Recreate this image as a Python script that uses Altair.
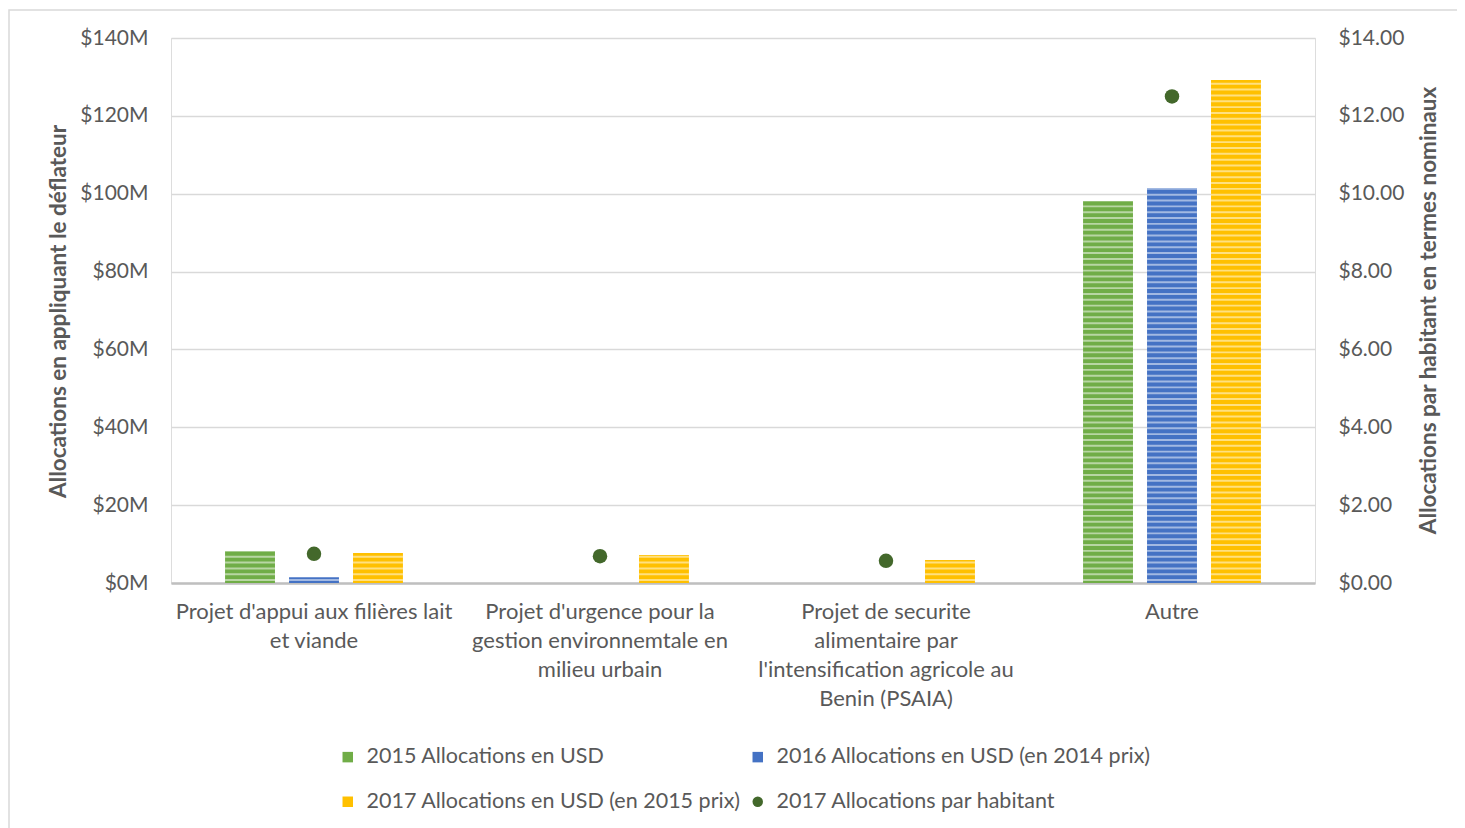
import json
import altair as alt
import pandas as pd

categories = [
    "Projet d'appui aux filières lait et viande",
    "Projet d'urgence pour la gestion environnemtale en milieu urbain",
    "Projet de securite alimentaire par l'intensification agricole au Benin (PSAIA)",
    "Autre",
]
category_lines = [
    ["Projet d'appui aux filières lait", "et viande"],
    ["Projet d'urgence pour la", "gestion environnemtale en", "milieu urbain"],
    ["Projet de securite", "alimentaire par", "l'intensification agricole au", "Benin (PSAIA)"],
    ["Autre"],
]
series = [
    "2015 Allocations en USD",
    "2016 Allocations en USD (en 2014 prix)",
    "2017 Allocations en USD (en 2015 prix)",
    "2017 Allocations par habitant",
]
colors = ["#70AD47", "#4472C4", "#FFC000", "#43682B"]
shapes = ["square", "square", "square", "circle"]

alloc_2015 = [8.2, None, None, 98.1]      # millions USD
alloc_2016 = [1.5, None, None, 101.5]
alloc_2017 = [7.7, 7.2, 5.9, 129.2]
per_capita_2017 = [0.75, 0.69, 0.57, 12.5]  # USD per inhabitant

rows = []
for s, vals in zip(series[:3], [alloc_2015, alloc_2016, alloc_2017]):
    for c, v in zip(categories, vals):
        if v is not None:
            rows.append({"category": c, "series": s, "value": v})
bar_df = pd.DataFrame(rows)
dot_df = pd.DataFrame({"category": categories, "series": series[3], "per_capita": per_capita_2017})

label_expr = " : ".join(
    f"datum.value == {json.dumps(c)} ? {json.dumps(l)}" for c, l in zip(categories[:-1], category_lines[:-1])
) + f" : {json.dumps(category_lines[-1])}"

FONT = "Lato"
GRAY = "#595959"
FS = 21
TFS = 22.5

legend_def = alt.Legend(
    title=None, orient="none", legendX=166, legendY=708, columns=2, direction="horizontal",
    labelFont=FONT, labelFontSize=21.5, labelColor=GRAY, labelLimit=600,
    symbolSize=110, symbolStrokeWidth=0, rowPadding=22, columnPadding=6,
    labelOffset=8,
)

x_enc = alt.X(
    "category:N", sort=categories,
    scale=alt.Scale(domain=categories, paddingInner=0, paddingOuter=0),
    axis=alt.Axis(
        title=None, labelAngle=0, labelExpr=label_expr, labelFont=FONT, labelFontSize=22,
        labelColor=GRAY, labelPadding=18, labelLineHeight=29, labelBaseline="top",
        ticks=False, domainColor="#BFBFBF", domainWidth=2.5, grid=False, labelLimit=400,
    ),
)
xoff = alt.XOffset("series:N", scale=alt.Scale(domain=series[:3], paddingInner=0.22, paddingOuter=0.845))
color_enc = alt.Color("series:N", scale=alt.Scale(domain=series, range=colors), legend=legend_def)
shape_enc = alt.Shape("series:N", scale=alt.Scale(domain=series, range=shapes), legend=legend_def)

y_left = alt.Y(
    "value:Q", scale=alt.Scale(domain=[0, 140]),
    axis=alt.Axis(
        title="Allocations en appliquant le déflateur", values=list(range(0, 141, 20)),
        labelExpr="'$' + datum.value + 'M'", labelFont=FONT, labelFontSize=FS, labelColor=GRAY,
        labelPadding=23, ticks=False, domain=False, grid=True, gridColor="#D9D9D9", gridWidth=1.3,
        titleFont=FONT, titleFontSize=TFS, titleFontWeight="bold", titleColor=GRAY,
        titleX=-113, titleY=273, titleAlign="center", titleBaseline="middle", titleAngle=270,
    ),
)

bars = alt.Chart(bar_df).mark_bar().encode(
    x=x_enc, xOffset=xoff, y=y_left, color=color_enc, shape=shape_enc,
)

stripes = (
    alt.Chart(bar_df)
    .transform_calculate(stripe="sequence(0.5, datum.value, 1.5)")
    .transform_flatten(["stripe"])
    .transform_calculate(stripe2="min(datum.stripe + 0.5, datum.value)")
    .mark_rect(color="white", opacity=0.5)
    .encode(
        x=alt.X("category:N", sort=categories),
        xOffset=alt.XOffset("series:N"),
        y=alt.Y("stripe:Q"),
        y2="stripe2:Q",
    )
)

frame = alt.Chart(dot_df).mark_rect(
    fill=None, stroke="#D9D9D9", strokeWidth=1.5, clip=False
).encode(
    x=alt.value(-162), x2=alt.value(1320), y=alt.value(-28), y2=alt.value(800)
).transform_filter("datum.category == 'Autre'")

dots = alt.Chart(dot_df).mark_point(filled=True, size=210, opacity=1).encode(
    x=alt.X("category:N", sort=categories),
    y=alt.Y(
        "per_capita:Q", scale=alt.Scale(domain=[0, 14]),
        axis=alt.Axis(
            orient="right", title="Allocations par habitant en termes nominaux", values=list(range(0, 15, 2)),
            format="$.2f", labelFont=FONT, labelFontSize=FS, labelColor=GRAY, labelPadding=23,
            ticks=False, domain=False, grid=False,
            titleFont=FONT, titleFontSize=TFS, titleFontWeight="bold", titleColor=GRAY,
            titleX=113, titleY=272, titleAlign="center", titleBaseline="middle", titleAngle=270,
        ),
    ),
    color=color_enc,
    shape=shape_enc,
)

left = alt.layer(bars, stripes, frame)
chart = (
    alt.layer(left, dots)
    .resolve_scale(y="independent")
    .properties(
        width=1144, height=545,
        autosize=alt.AutoSizeParams(type="none"),
        padding={"left": 163, "top": 30, "right": 142, "bottom": 245},
    )
    .configure_view(stroke=None)
    .configure(background="white")
)

chart.save("out.html", embed_options={"renderer": "svg", "actions": False})
